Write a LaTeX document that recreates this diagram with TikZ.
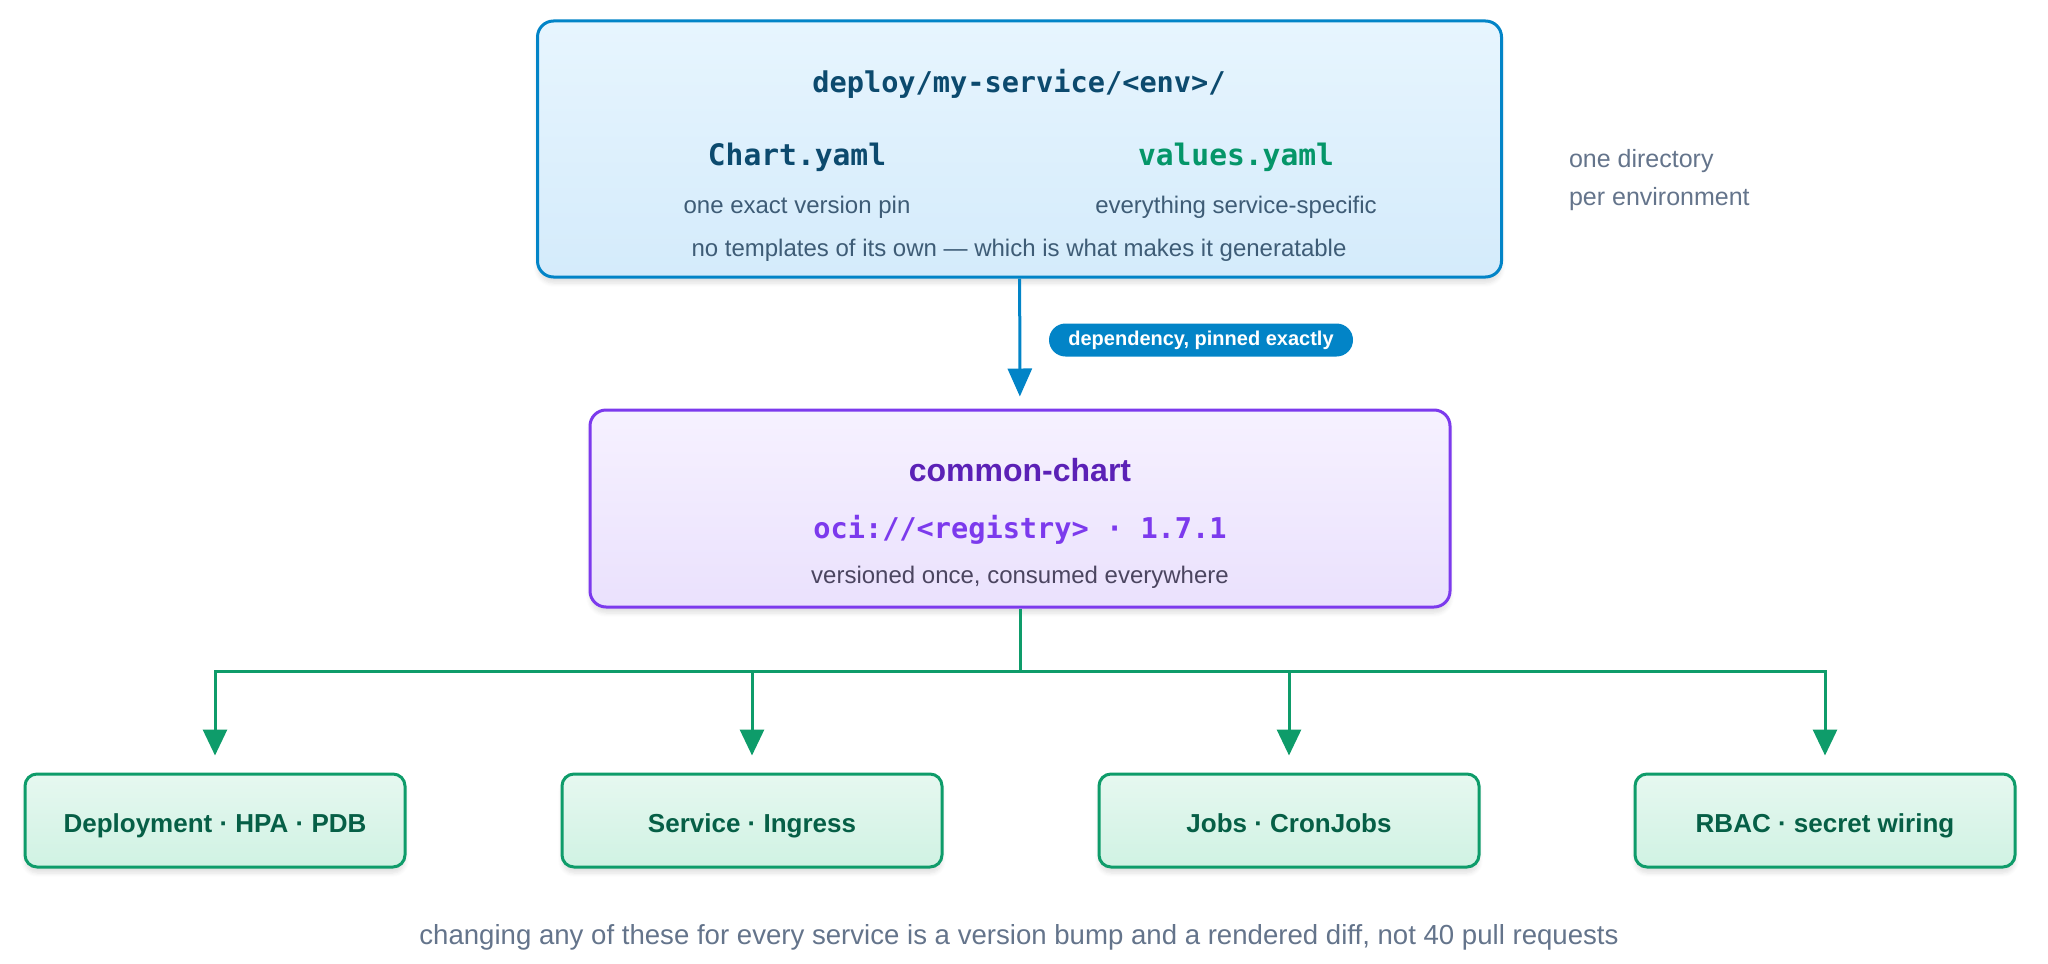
\documentclass[tikz,border=0pt]{standalone}
\usepackage{fontspec}
\setmainfont{Liberation Sans}
\setmonofont{DejaVu Sans Mono}
\usetikzlibrary{arrows.meta,shadows.blur}
\definecolor{skyline}{HTML}{0284C7}
\definecolor{skytop}{HTML}{E7F5FE}
\definecolor{skybot}{HTML}{D4EBFB}
\definecolor{dirblue}{HTML}{0C4A6E}
\definecolor{valgreen}{HTML}{059669}
\definecolor{bodyblue}{HTML}{3E5C76}
\definecolor{violetline}{HTML}{7C3AED}
\definecolor{violettop}{HTML}{F6F1FF}
\definecolor{violetbot}{HTML}{EAE1FD}
\definecolor{violetdark}{HTML}{5B21B6}
\definecolor{violetbody}{HTML}{4B4560}
\definecolor{greenline}{HTML}{0E9C6A}
\definecolor{greentop}{HTML}{E6F8F0}
\definecolor{greenbot}{HTML}{D0F2E3}
\definecolor{greentext}{HTML}{065F46}
\definecolor{notegray}{HTML}{64748B}

\begin{document}
\begin{tikzpicture}[x=0.5pt,y=-0.5pt,
  panel/.style={draw, line width=1.5pt, rounded corners=8pt,
    blur shadow={shadow xshift=0pt, shadow yshift=-3pt, shadow blur steps=6, shadow opacity=12}},
  resource/.style={panel, draw=greenline, top color=greentop, bottom color=greenbot,
    minimum width=190pt, minimum height=46.5pt, rounded corners=6pt,
    text height=12pt, text depth=0pt,
    text=greentext, font=\bfseries\fontsize{13}{15}\selectfont},
  body/.style={font=\fontsize{12}{14}\selectfont},
  file/.style={font=\ttfamily\bfseries\fontsize{14.8}{16}\selectfont},
  feed/.style={draw=greenline, line width=1.5pt, -{Triangle[length=13pt,width=12pt]}, shorten >=8.5pt}]

  \useasboundingbox (0,0) rectangle (2048,963);

  % chart directory
  \node[panel, draw=skyline, top color=skytop, bottom color=skybot,
    minimum width=482pt, minimum height=128pt] (deploy) at (1019.5,149) {};
  \node[file, text=dirblue, font=\ttfamily\bfseries\fontsize{14.3}{16}\selectfont] (path) at (1019,83.5) {deploy/my-service/<env>/};
  \node[file, text=dirblue] (chart) at (797,157.5) {Chart.yaml};
  \node[file, text=valgreen] (values) at (1236,157.5) {values.yaml};
  \node[body, text=bodyblue] (pin) at (797,207.5) {one exact version pin};
  \node[body, text=bodyblue] (specific) at (1236,207.5) {everything service-specific};
  \node[body, text=bodyblue] (notpl) at (1019,250.5) {no templates of its own — which is what makes it generatable};
  \node[body, text=notegray, align=left, anchor=west, font=\fontsize{12.5}{19}\selectfont] (perenv) at (1562,180.5) {one directory\\per environment};

  % library chart
  \node[panel, draw=violetline, top color=violettop, bottom color=violetbot,
    minimum width=430pt, minimum height=98.5pt] (common) at (1020,508.5) {};
  \node[text=violetdark, font=\bfseries\fontsize{16}{18}\selectfont] (name) at (1020,470) {common-chart};
  \node[file, text=violetline, font=\ttfamily\bfseries\fontsize{14.3}{16}\selectfont] (oci) at (1020,529.5) {oci://<registry> · 1.7.1};
  \node[body, text=violetbody] (once) at (1020,577.5) {versioned once, consumed everywhere};

  \draw[skyline, line width=1.5pt, -{Triangle[length=14pt,width=12pt]}, shorten >=6pt] (deploy) -- (common);
  \node[fill=skyline, text=white, font=\bfseries\fontsize{10}{12}\selectfont,
    rounded corners=8.25pt, minimum width=152pt, minimum height=16.5pt, inner sep=0pt] (dep) at (1201,340) {dependency, pinned exactly};

  % rendered resources
  \node[resource] (res1) at (215,820.5) {Deployment · HPA · PDB};
  \node[resource] (res2) at (752,820.5) {Service · Ingress};
  \node[resource] (res3) at (1289,820.5) {Jobs · CronJobs};
  \node[resource] (res4) at (1825,820.5) {RBAC · secret wiring};

  \coordinate (bus) at (1020,671);
  \draw[greenline, line width=1.5pt] (common) -- (bus);
  \foreach \n in {1,...,4}
    \draw[feed] (bus) -| (res\n);

  \node[text=notegray, font=\fontsize{13.8}{16}\selectfont] (footer) at (1019,937.5) {changing any of these for every service is a version bump and a rendered diff, not 40 pull requests};

\end{tikzpicture}
\end{document}
